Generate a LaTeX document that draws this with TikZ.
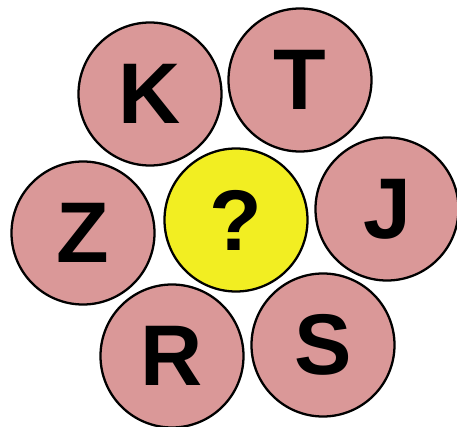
\documentclass[tikz,border=0pt]{standalone}
\usepackage{fontspec}
\setmainfont{Liberation Sans}
\usepackage{xcolor}
\usepackage{tikz}
\definecolor{rose}{HTML}{DA9898}
\definecolor{jaune}{HTML}{F2EE22}
\tikzset{
  bulle/.style={circle, draw=black, line width=1.3pt, fill=rose,
    minimum size=2.86cm, inner sep=0pt,
    font=\fontsize{49}{49}\selectfont\bfseries},
  bullecentre/.style={bulle, fill=jaune}
}
\begin{document}
\begin{tikzpicture}
    \useasboundingbox (0, 0) rectangle (9.14, 8.54);

    % Bulles autour
    \foreach \x/\y/\lettre/\id in {3.00/6.66/K/k, 6.00/6.94/T/t, 1.66/3.88/Z/z,
        7.74/4.36/J/j, 3.44/1.42/R/r, 6.46/1.64/S/s} {
      \node[bulle] (\id) at (\x, \y) {\lettre};
    }

    % Bulle du centre
    \node[bullecentre] (centre) at (4.72, 4.14) {?};
\end{tikzpicture}
\end{document}
